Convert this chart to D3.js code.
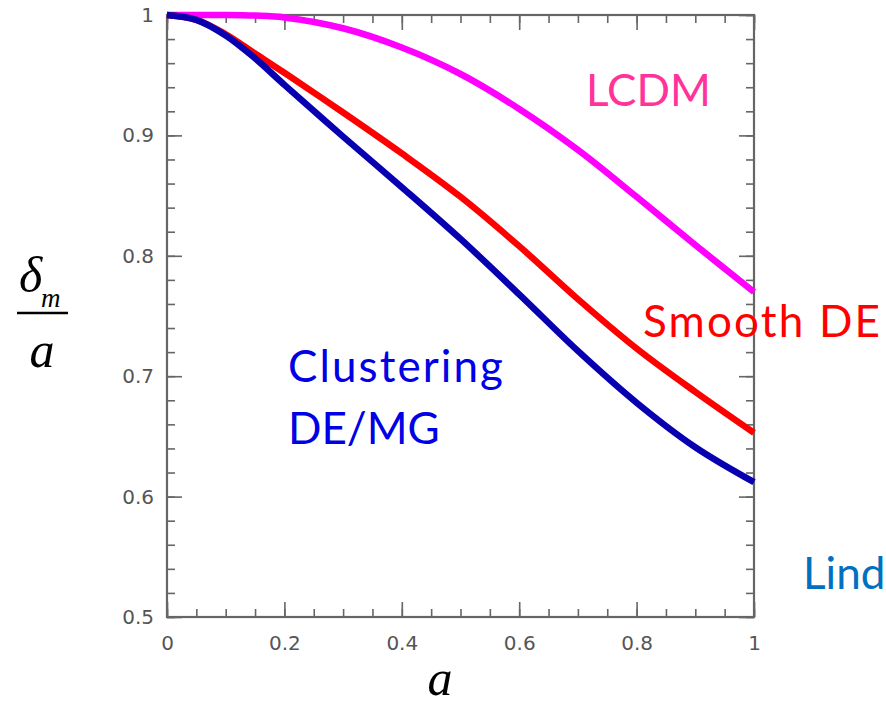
<!DOCTYPE html>
<html>
<head>
<meta charset="utf-8">
<script src="https://cdn.jsdelivr.net/npm/d3@7/dist/d3.min.js"></script>
<style>
  html, body { margin: 0; padding: 0; background: #fff; }
  svg { display: block; }
</style>
</head>
<body>
<div id="chart"></div>
<script>
// Scale factor a and growth delta_m / a for each model
const aValues = [0, 0.05, 0.1, 0.15, 0.2, 0.3, 0.4, 0.5, 0.6, 0.7, 0.8, 0.9, 1.0];
const lcdm = [1.0, 1.0, 1.0, 0.9995, 0.998, 0.989, 0.973, 0.951, 0.922, 0.888, 0.849, 0.809, 0.770];
const smoothDE = [1.0, 0.996, 0.984, 0.968, 0.952, 0.919, 0.885, 0.849, 0.808, 0.764, 0.723, 0.687, 0.653];
const clusteringDE = [1.0, 0.996, 0.983, 0.964, 0.942, 0.899, 0.857, 0.814, 0.768, 0.721, 0.678, 0.641, 0.612];

const xTicks = [0, 0.2, 0.4, 0.6, 0.8, 1];
const yTicks = [0.5, 0.6, 0.7, 0.8, 0.9, 1];
const xMinorTicks = d3.range(0, 1.0001, 0.05);
const yMinorTicks = d3.range(0.5, 1.0001, 0.02);

const seriesNames = ["LCDM", "Smooth DE", "Clustering DE/MG"];
const seriesColors = ["#ff00ff", "#ff0000", "#0800b0"];

const width = 886;
const height = 705;
const plot = { left: 167, right: 754, top: 15, bottom: 617 };

const svg = d3.select("#chart")
  .append("svg")
  .attr("width", width)
  .attr("height", height);

svg.append("rect")
  .attr("width", width)
  .attr("height", height)
  .attr("fill", "#fff");

const x = d3.scaleLinear().domain([0, 1]).range([plot.left, plot.right]);
const y = d3.scaleLinear().domain([0.5, 1]).range([plot.bottom, plot.top]);

const axisColor = "#666";
const majorLen = 15;
const minorLen = 8;
const tickFont = "DejaVu Sans, sans-serif";

// Axes on all four sides, ticks pointing inward
function styleAxis(g) {
  g.select(".domain").remove();
  g.selectAll("line").attr("stroke", axisColor).attr("stroke-width", 1.6);
}

function styleLabels(g) {
  g.selectAll("text")
    .attr("font-family", tickFont)
    .attr("font-size", 20)
    .attr("fill", "#555");
}

svg.append("g")
  .attr("transform", `translate(0,${plot.bottom})`)
  .call(d3.axisBottom(x).tickValues(xMinorTicks).tickSize(-minorLen).tickFormat(""))
  .call(styleAxis);
svg.append("g")
  .attr("transform", `translate(0,${plot.bottom})`)
  .call(d3.axisBottom(x).tickValues(xTicks).tickSize(-majorLen).tickPadding(majorLen + 4)
    .tickFormat((d) => d3.format("")(d)))
  .call(styleAxis)
  .call(styleLabels);

svg.append("g")
  .attr("transform", `translate(0,${plot.top})`)
  .call(d3.axisTop(x).tickValues(xMinorTicks).tickSize(-minorLen).tickFormat(""))
  .call(styleAxis);
svg.append("g")
  .attr("transform", `translate(0,${plot.top})`)
  .call(d3.axisTop(x).tickValues(xTicks).tickSize(-majorLen).tickFormat(""))
  .call(styleAxis);

svg.append("g")
  .attr("transform", `translate(${plot.left},0)`)
  .call(d3.axisLeft(y).tickValues(yMinorTicks).tickSize(-minorLen).tickFormat(""))
  .call(styleAxis);
svg.append("g")
  .attr("transform", `translate(${plot.left},0)`)
  .call(d3.axisLeft(y).tickValues(yTicks).tickSize(-majorLen).tickPadding(13)
    .tickFormat((d) => d3.format("")(d)))
  .call(styleAxis)
  .call(styleLabels);

svg.append("g")
  .attr("transform", `translate(${plot.right},0)`)
  .call(d3.axisRight(y).tickValues(yMinorTicks).tickSize(-minorLen).tickFormat(""))
  .call(styleAxis);
svg.append("g")
  .attr("transform", `translate(${plot.right},0)`)
  .call(d3.axisRight(y).tickValues(yTicks).tickSize(-majorLen).tickFormat(""))
  .call(styleAxis);

// Frame
svg.append("rect")
  .attr("x", plot.left)
  .attr("y", plot.top)
  .attr("width", plot.right - plot.left)
  .attr("height", plot.bottom - plot.top)
  .attr("fill", "none")
  .attr("stroke", axisColor)
  .attr("stroke-width", 2.2);

// Curves
const line = d3.line()
  .x((d) => x(d[0]))
  .y((d) => y(d[1]))
  .curve(d3.curveCatmullRom.alpha(0.5));

const series = [lcdm, smoothDE, clusteringDE];
svg.append("g")
  .selectAll("path")
  .data(series)
  .join("path")
  .attr("d", (vals) => line(aValues.map((a, i) => [a, vals[i]])))
  .attr("fill", "none")
  .attr("stroke", (d, i) => seriesColors[i])
  .attr("stroke-width", 6.5)
  .attr("stroke-linecap", "butt");

// Curve annotations
const labelFont = "Lato, 'Open Sans', sans-serif";
function note(text, tx, ty, color, len) {
  const t = svg.append("text")
    .attr("x", tx)
    .attr("y", ty)
    .attr("font-family", labelFont)
    .attr("font-size", 44)
    .attr("fill", color)
    .text(text);
  if (len) t.attr("textLength", len).attr("lengthAdjust", "spacing");
}
note("LCDM", 586, 106, "#ff3399");
note("Smooth DE", 643, 337, "#ff0000", 237);
note("Clustering", 288, 382, "#0000e6", 215);
note("DE/MG", 288, 444, "#0000e6");
note("Linder", 803, 589, "#0070c0");

// Axis titles
const serif = "'Liberation Serif', 'DejaVu Serif', serif";
svg.append("text")
  .attr("x", 440)
  .attr("y", 695)
  .attr("text-anchor", "middle")
  .attr("font-family", serif)
  .attr("font-style", "italic")
  .attr("font-size", 50)
  .text("a");

const yTitle = svg.append("g");
yTitle.append("text")
  .attr("x", 19)
  .attr("y", 292)
  .attr("font-family", serif)
  .attr("font-style", "italic")
  .attr("font-size", 50)
  .text("δ");
yTitle.append("text")
  .attr("x", 41)
  .attr("y", 307)
  .attr("font-family", serif)
  .attr("font-style", "italic")
  .attr("font-size", 27)
  .text("m");
yTitle.append("line")
  .attr("x1", 17)
  .attr("x2", 68)
  .attr("y1", 313)
  .attr("y2", 313)
  .attr("stroke", "#000")
  .attr("stroke-width", 2.5);
yTitle.append("text")
  .attr("x", 42)
  .attr("y", 367)
  .attr("text-anchor", "middle")
  .attr("font-family", serif)
  .attr("font-style", "italic")
  .attr("font-size", 50)
  .text("a");
</script>
</body>
</html>
